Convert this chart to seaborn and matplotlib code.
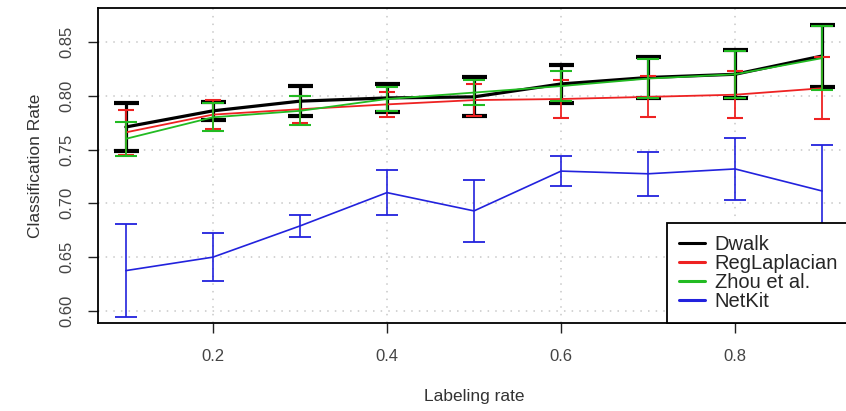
import numpy as np
import pandas as pd
import matplotlib
matplotlib.use('Agg')
import matplotlib.pyplot as plt
import seaborn as sns

# 데이터
labeling_rate = [0.1, 0.2, 0.3, 0.4, 0.5, 0.6, 0.7, 0.8, 0.9]
methods = ['Dwalk', 'RegLaplacian', 'Zhou et al.', 'NetKit']

dwalk = [0.771, 0.786, 0.795, 0.798, 0.799, 0.811, 0.817, 0.820, 0.837]
dwalk_sd = [0.0223, 0.0085, 0.0137, 0.013, 0.018, 0.0175, 0.019, 0.0225, 0.029]
reglap = [0.766, 0.7825, 0.7875, 0.792, 0.796, 0.797, 0.799, 0.801, 0.807]
reglap_sd = [0.021, 0.0136, 0.0125, 0.0114, 0.015, 0.018, 0.019, 0.022, 0.029]
zhou = [0.760, 0.780, 0.786, 0.797, 0.803, 0.809, 0.816, 0.820, 0.835]
zhou_sd = [0.016, 0.013, 0.0136, 0.011, 0.012, 0.014, 0.018, 0.022, 0.030]
netkit = [0.6375, 0.650, 0.679, 0.710, 0.693, 0.730, 0.7275, 0.732, 0.7115]
netkit_sd = [0.0435, 0.022, 0.0098, 0.021, 0.029, 0.0143, 0.0203, 0.029, 0.043]

means = [dwalk, reglap, zhou, netkit]
sds = [dwalk_sd, reglap_sd, zhou_sd, netkit_sd]

colors = ['#000000', '#ee2222', '#22bb22', '#2222dd']
lws = [2.3, 1.3, 1.3, 1.2]
capsizes = [9, 6, 8, 8]
capthicks = [3, 1.5, 1.5, 1.3]

df = pd.DataFrame({
    'rate': labeling_rate * 4,
    'value': sum(means, []),
    'sd': sum(sds, []),
    'method': [m for m in methods for _ in labeling_rate],
})

sns.set_style('white')
plt.rcParams['font.family'] = ['Liberation Sans', 'DejaVu Sans']

fig = plt.figure(figsize=(8.46, 4.11), dpi=100)
ax = fig.add_axes([98 / 846, 88 / 411, 752 / 846, 315 / 411])

for i, m in enumerate(methods):
    d = df[df['method'] == m]
    ax.errorbar(d['rate'], d['value'], yerr=d['sd'], fmt='none',
                ecolor=colors[i], elinewidth=lws[i], capsize=capsizes[i],
                capthick=capthicks[i], zorder=2 + i)
    sns.lineplot(data=d, x='rate', y='value', color=colors[i], lw=lws[i],
                 ax=ax, label=m, zorder=2 + i, estimator=None, errorbar=None)

ax.set_xlim(0.068, 0.932)
ax.set_ylim(0.5888, 0.8816)
ax.set_xticks([0.2, 0.4, 0.6, 0.8])
ax.set_xticklabels(['0.2', '0.4', '0.6', '0.8'])
ax.set_yticks([0.60, 0.65, 0.70, 0.75, 0.80, 0.85])
ax.set_yticklabels(['0.60', '0.65', '0.70', '0.75', '0.80', '0.85'],
                   rotation=90, va='center')
ax.grid(True, color='#c8c8c8', linestyle=(0, (1, 4)), linewidth=1.1)
ax.set_axisbelow(True)

for s in ax.spines.values():
    s.set_color('black')
    s.set_linewidth(1.3)

ax.tick_params(axis='both', direction='out', length=7, width=1, color='#222222',
               labelsize=12, labelcolor='#444444', bottom=True, left=True)
ax.tick_params(axis='x', pad=12)
ax.tick_params(axis='y', pad=10)
ax.set_xlabel('Labeling rate', fontsize=12.5, color='#333333', labelpad=18)
ax.set_ylabel('Classification Rate', fontsize=12.5, color='#333333', labelpad=12)

leg = ax.legend(loc='lower right', bbox_to_anchor=(1, 0), borderaxespad=0,
                fontsize=14.5, fancybox=False, framealpha=1, edgecolor='black',
                handlelength=1.3, handletextpad=0.45, labelspacing=0.0,
                borderpad=0.6)
leg.get_frame().set_linewidth(1.3)
for h in leg.get_lines():
    h.set_linewidth(2.2)
leg.set_zorder(10)

plt.savefig('out.png', dpi=100)
